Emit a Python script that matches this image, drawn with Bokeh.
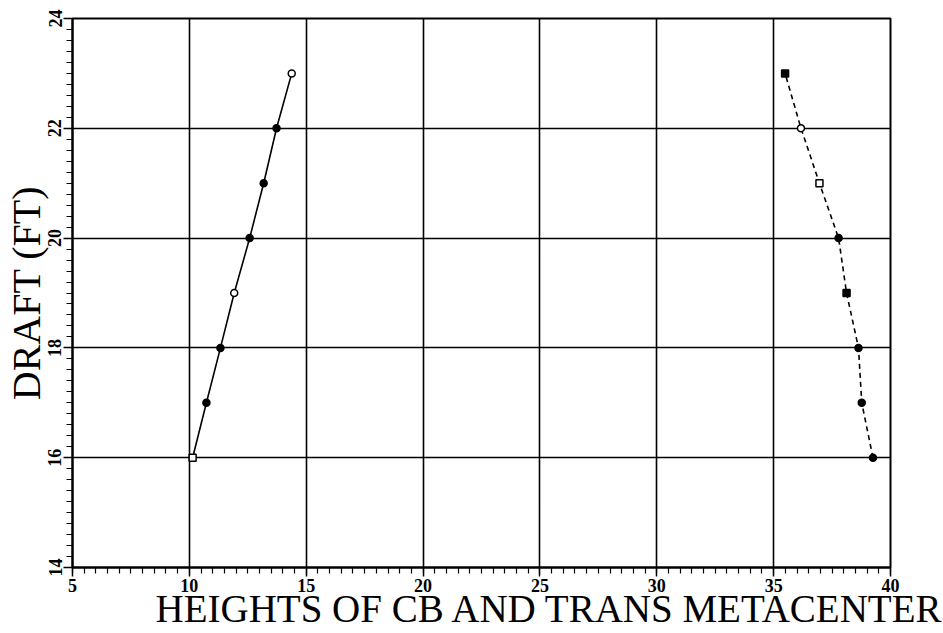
from bokeh.plotting import figure
from bokeh.models import SingleIntervalTicker, ColumnDataSource, Title
from bokeh.embed import file_html
from bokeh.resources import INLINE

# ---- data ----
draft = [16, 17, 18, 19, 20, 21, 22, 23]
kb_height = [10.14, 10.73, 11.33, 11.92, 12.58, 13.18, 13.73, 14.38]
km_height = [39.25, 38.77, 38.63, 38.12, 37.78, 36.96, 36.17, 35.49]
kb_marker = ["square", "circle", "circle", "circle", "circle", "circle", "circle", "circle"]
kb_open = [True, False, False, True, False, False, False, True]
km_marker = ["circle", "circle", "circle", "square", "circle", "square", "circle", "square"]
km_open = [False, False, False, False, False, True, True, False]

x_label = "HEIGHTS OF CB AND TRANS METACENTER"
y_label = "DRAFT (FT)"

FONT = "Liberation Serif"

p = figure(width=943, height=633, x_range=(5, 40), y_range=(14, 24),
           output_backend="svg", toolbar_location=None,
           min_border_left=72, min_border_right=53, min_border_top=18, min_border_bottom=66)
p.background_fill_color = "white"
p.border_fill_color = "white"
p.outline_line_color = "black"
p.outline_line_width = 2

for ax in (p.xaxis[0], p.yaxis[0]):
    ax.axis_line_color = "black"
    ax.axis_line_width = 2
    ax.major_tick_line_color = "black"
    ax.minor_tick_line_color = "black"
    ax.major_tick_line_width = 1.5
    ax.minor_tick_line_width = 1.2
    ax.major_tick_in = 0
    ax.minor_tick_in = 0
    ax.major_tick_out = 9
    ax.minor_tick_out = 6
    ax.major_label_text_font = FONT
    ax.major_label_text_font_size = "18px"
    ax.major_label_text_color = "black"
    ax.major_label_text_font_style = "bold"
    ax.major_label_standoff = 2

p.xaxis[0].ticker = SingleIntervalTicker(interval=5, num_minor_ticks=10)
p.yaxis[0].ticker = SingleIntervalTicker(interval=2, num_minor_ticks=10)
p.yaxis[0].major_label_orientation = "vertical"

# y axis title
p.yaxis[0].axis_label = y_label
p.yaxis[0].axis_label_text_font = FONT
p.yaxis[0].axis_label_text_font_size = "40px"
p.yaxis[0].axis_label_text_font_style = "normal"
p.yaxis[0].axis_label_text_color = "black"
p.yaxis[0].axis_label_standoff = -3

p.xgrid.grid_line_color = "black"
p.ygrid.grid_line_color = "black"
p.xgrid.grid_line_width = 1.6
p.ygrid.grid_line_width = 1.6
p.xgrid.ticker = p.xaxis[0].ticker
p.ygrid.ticker = p.yaxis[0].ticker

# lines
p.line(kb_height, draft, line_color="black", line_width=1.6)
p.line(km_height, draft, line_color="black", line_width=1.6, line_dash="5 4")

src_kb = ColumnDataSource(dict(x=kb_height, y=draft, m=kb_marker,
                               f=["white" if o else "black" for o in kb_open]))
src_km = ColumnDataSource(dict(x=km_height, y=draft, m=km_marker,
                               f=["white" if o else "black" for o in km_open]))
p.scatter("x", "y", source=src_kb, marker="m", size=7, fill_color="f",
          line_color="black", line_width=1.5)
p.scatter("x", "y", source=src_km, marker="m", size=7, fill_color="f",
          line_color="black", line_width=1.5)

# x axis title (left-aligned, offset to the reference position)
xt = Title(text=x_label, align="left", offset=83, standoff=-20,
           text_font=FONT, text_font_size="39px", text_font_style="normal",
           text_color="black")
p.add_layout(xt, "below")

open("out.html", "w").write(file_html(p, INLINE))
